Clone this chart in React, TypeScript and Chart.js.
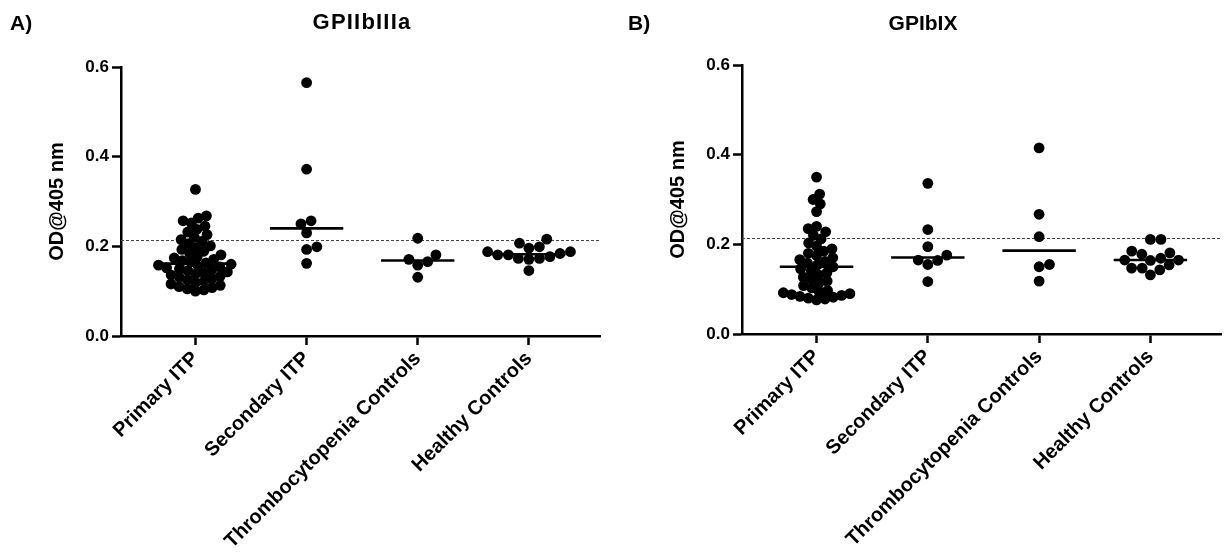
import React, { useEffect, useRef } from 'react';
import { Chart, registerables } from 'chart.js';

Chart.register(...registerables);

// ---------- data ----------
const categories = ['Primary ITP', 'Secondary ITP', 'Thrombocytopenia Controls', 'Healthy Controls'];
const yTickValues = [0, 0.2, 0.4, 0.6];
const cutoff = 0.213;

const gp2b3aPrimary = [
  0.100, 0.103, 0.105, 0.108, 0.110, 0.113, 0.116, 0.119,
  0.122, 0.125, 0.128, 0.131, 0.133, 0.136, 0.138, 0.141, 0.143, 0.146, 0.148, 0.150,
  0.152, 0.154, 0.156, 0.158, 0.160, 0.163, 0.165, 0.168,
  0.171, 0.174, 0.177, 0.181, 0.185, 0.189, 0.193, 0.197,
  0.201, 0.206, 0.211, 0.215, 0.220, 0.226,
  0.232, 0.238, 0.245, 0.252, 0.257, 0.263, 0.268,
  0.327,
];
const gp2b3aSecondary = [0.565, 0.372, 0.250, 0.257, 0.230, 0.199, 0.193, 0.162];
const gp2b3aThrombo = [0.181, 0.218, 0.166, 0.171, 0.158, 0.131];
const gp2b3aHealthy = [0.216, 0.196, 0.184, 0.199, 0.188, 0.188, 0.171, 0.177, 0.173, 0.173, 0.207, 0.181, 0.181, 0.146];

const gp1b9Primary = [
  0.076, 0.078, 0.080, 0.082, 0.084, 0.086, 0.088, 0.090, 0.092, 0.094, 0.097,
  0.103, 0.108, 0.113, 0.118, 0.122, 0.127,
  0.132, 0.137, 0.141, 0.145,
  0.150, 0.154, 0.158, 0.162, 0.166, 0.170, 0.175, 0.180, 0.185, 0.190, 0.196,
  0.203, 0.212, 0.220, 0.228, 0.235, 0.240,
  0.273, 0.290, 0.300, 0.312,
  0.350,
];
const gp1b9Secondary = [0.336, 0.233, 0.195, 0.176, 0.164, 0.155, 0.165, 0.117];
const gp1b9Thrombo = [0.415, 0.267, 0.217, 0.155, 0.150, 0.118];
const gp1b9Healthy = [0.211, 0.211, 0.181, 0.185, 0.178, 0.165, 0.169, 0.165, 0.164, 0.143, 0.154, 0.147, 0.147, 0.132];

// ---------- layout / style ----------
const FONT = "'Liberation Sans', Arial, Helvetica, sans-serif";
const W = 1227;
const H = 556;
const X_MIN = -0.67;
const X_MAX = 3.64;
const Y_MAX = 0.6;
const DOT_R = 5.4;
const COLLIDE_SMALL = 10.6;
const COLLIDE_LARGE = 8.5;
const HALF_MEDIAN = 0.33;

type PanelCfg = {
  letter: string;
  title: string;
  groups: number[][];
  left: number;
  width: number;
  yWidth: number;
  padTop: number;
  padRight: number;
  xHeight: number;
  yTitleCenter: number;
};

const panels: PanelCfg[] = [
  {
    letter: 'A)', title: 'GPIIbIIIa',
    groups: [gp2b3aPrimary, gp2b3aSecondary, gp2b3aThrombo, gp2b3aHealthy],
    left: 0, width: 613, yWidth: 121, padTop: 67, padRight: 13, xHeight: 220, yTitleCenter: 57,
  },
  {
    letter: 'B)', title: 'GPIbIX',
    groups: [gp1b9Primary, gp1b9Secondary, gp1b9Thrombo, gp1b9Healthy],
    left: 613, width: 614, yWidth: 129, padTop: 65, padRight: 5, xHeight: 222, yTitleCenter: 65,
  },
];

function median(vals: number[]): number {
  const s = [...vals].sort((a, b) => a - b);
  const n = s.length;
  return n % 2 ? s[(n - 1) / 2] : (s[n / 2 - 1] + s[n / 2]) / 2;
}

// greedy beeswarm: returns horizontal offsets (pixels) so dots do not collide
function swarm(vals: number[], yPx: number, d: number): number[] {
  const order = vals.map((_, i) => i).sort((a, b) => vals[a] - vals[b]);
  const placed: { x: number; y: number }[] = [];
  const out = new Array(vals.length).fill(0);
  let side = 1;
  for (const i of order) {
    const y = vals[i] * yPx;
    const near = placed.filter((p) => Math.abs(p.y - y) < d);
    const cands = [0];
    for (const p of near) {
      const dx = Math.sqrt(d * d - (p.y - y) * (p.y - y));
      cands.push(p.x + dx, p.x - dx);
    }
    const ok = (x: number) => near.every((p) => (p.x - x) ** 2 + (p.y - y) ** 2 >= d * d - 1e-6);
    let best: number | null = null;
    for (const c of cands) {
      if (!ok(c)) continue;
      if (best === null) { best = c; continue; }
      const a = Math.abs(c), b = Math.abs(best);
      if (a < b - 1e-6 || (Math.abs(a - b) <= 1e-6 && Math.sign(c) === side)) best = c;
    }
    const bx = best ?? 0;
    out[i] = bx;
    placed.push({ x: bx, y });
    if (bx !== 0) side = -side;
  }
  return out;
}

function PanelChart({ cfg }: { cfg: PanelCfg }) {
  const ref = useRef<HTMLCanvasElement | null>(null);
  useEffect(() => {
    if (!ref.current) return;
    const plotH = H - cfg.padTop - cfg.xHeight;
    const plotW = cfg.width - cfg.yWidth - cfg.padRight;
    const yPx = plotH / Y_MAX;
    const xPx = plotW / (X_MAX - X_MIN);

    const points: { x: number; y: number }[] = [];
    cfg.groups.forEach((vals, gi) => {
      const d = vals.length > 20 ? COLLIDE_LARGE : COLLIDE_SMALL;
      const offs = swarm(vals, yPx, d);
      vals.forEach((v, k) => points.push({ x: gi + offs[k] / xPx, y: v }));
    });

    const medianSets = cfg.groups.map((vals, gi) => {
      const m = median(vals);
      return {
        type: 'line' as const,
        data: [{ x: gi - HALF_MEDIAN, y: m }, { x: gi + HALF_MEDIAN, y: m }],
        borderColor: '#000',
        borderWidth: 2.6,
        pointRadius: 0,
        showLine: true,
        fill: false,
        order: 0,
      };
    });

    const chart = new Chart(ref.current, {
      type: 'scatter',
      data: {
        datasets: [
          ...medianSets,
          {
            type: 'scatter' as const,
            data: points,
            pointRadius: DOT_R,
            pointHoverRadius: DOT_R,
            backgroundColor: '#000',
            borderColor: '#000',
            borderWidth: 0,
            order: 1,
          },
          {
            type: 'line' as const,
            data: [{ x: X_MIN, y: cutoff }, { x: X_MAX, y: cutoff }],
            borderColor: '#444',
            borderWidth: 1.2,
            borderDash: [3, 2],
            pointRadius: 0,
            showLine: true,
            fill: false,
            order: 2,
          },
        ] as any,
      },
      options: {
        animation: false,
        responsive: false,
        maintainAspectRatio: false,
        events: [],
        layout: { padding: { left: 0, top: cfg.padTop, right: cfg.padRight, bottom: 0 } },
        plugins: { legend: { display: false }, tooltip: { enabled: false }, title: { display: false } },
        scales: {
          x: {
            type: 'linear',
            min: X_MIN,
            max: X_MAX,
            afterBuildTicks: (s: any) => { s.ticks = categories.map((_, i) => ({ value: i })); },
            afterFit: (s: any) => { s.height = cfg.xHeight; s.paddingLeft = 0; s.paddingRight = 0; },
            grid: { display: true, drawOnChartArea: false, drawTicks: true, tickLength: 9, tickWidth: 2.5, tickColor: '#000' },
            border: { display: true, width: 2.5, color: '#000' },
            ticks: {
              autoSkip: false, minRotation: 45, maxRotation: 45, padding: 2, color: '#000',
              font: { family: FONT, size: 20, weight: 'bold' },
              callback: (v: any) => categories[Math.round(Number(v))] ?? '',
            },
          },
          y: {
            type: 'linear',
            min: 0,
            max: Y_MAX,
            afterBuildTicks: (s: any) => { s.ticks = yTickValues.map((v) => ({ value: v })); },
            afterFit: (s: any) => { s.width = cfg.yWidth; s.paddingTop = 0; s.paddingBottom = 0; },
            grid: { display: true, drawOnChartArea: false, drawTicks: true, tickLength: 9, tickWidth: 2.5, tickColor: '#000' },
            border: { display: true, width: 2.5, color: '#000' },
            ticks: {
              padding: 3, color: '#000',
              font: { family: FONT, size: 17, weight: 'bold' },
              callback: (v: any) => Number(v).toFixed(1),
            },
            title: {
              display: true, text: 'OD@405 nm', color: '#000',
              font: { family: FONT, size: 20, weight: 'bold', lineHeight: 1.2 },
              padding: { top: cfg.yTitleCenter - 12, bottom: 0 },
            },
          },
        },
      } as any,
    });
    return () => chart.destroy();
  }, [cfg]);

  return (
    <canvas
      ref={ref}
      width={cfg.width}
      height={H}
      style={{ position: 'absolute', left: cfg.left, top: 0, width: cfg.width, height: H }}
    />
  );
}

const textStyle: React.CSSProperties = {
  position: 'absolute',
  fontFamily: FONT,
  fontWeight: 'bold',
  lineHeight: 1,
  color: '#000',
  whiteSpace: 'nowrap',
};

export default function App() {
  return (
    <div style={{ position: 'absolute', left: 0, top: 0, width: W, height: H, background: '#fff', overflow: 'hidden' }}>
      {panels.map((p) => (
        <PanelChart key={p.letter} cfg={p} />
      ))}
      <div style={{ ...textStyle, left: 10, top: 12, fontSize: 21 }}>A)</div>
      <div style={{ ...textStyle, left: 362, top: 11, fontSize: 22, letterSpacing: 1.2, transform: 'translateX(-50%)' }}>GPIIbIIIa</div>
      <div style={{ ...textStyle, left: 628, top: 12, fontSize: 21 }}>B)</div>
      <div style={{ ...textStyle, left: 923, top: 12, fontSize: 21, transform: 'translateX(-50%)' }}>GPIbIX</div>
    </div>
  );
}
